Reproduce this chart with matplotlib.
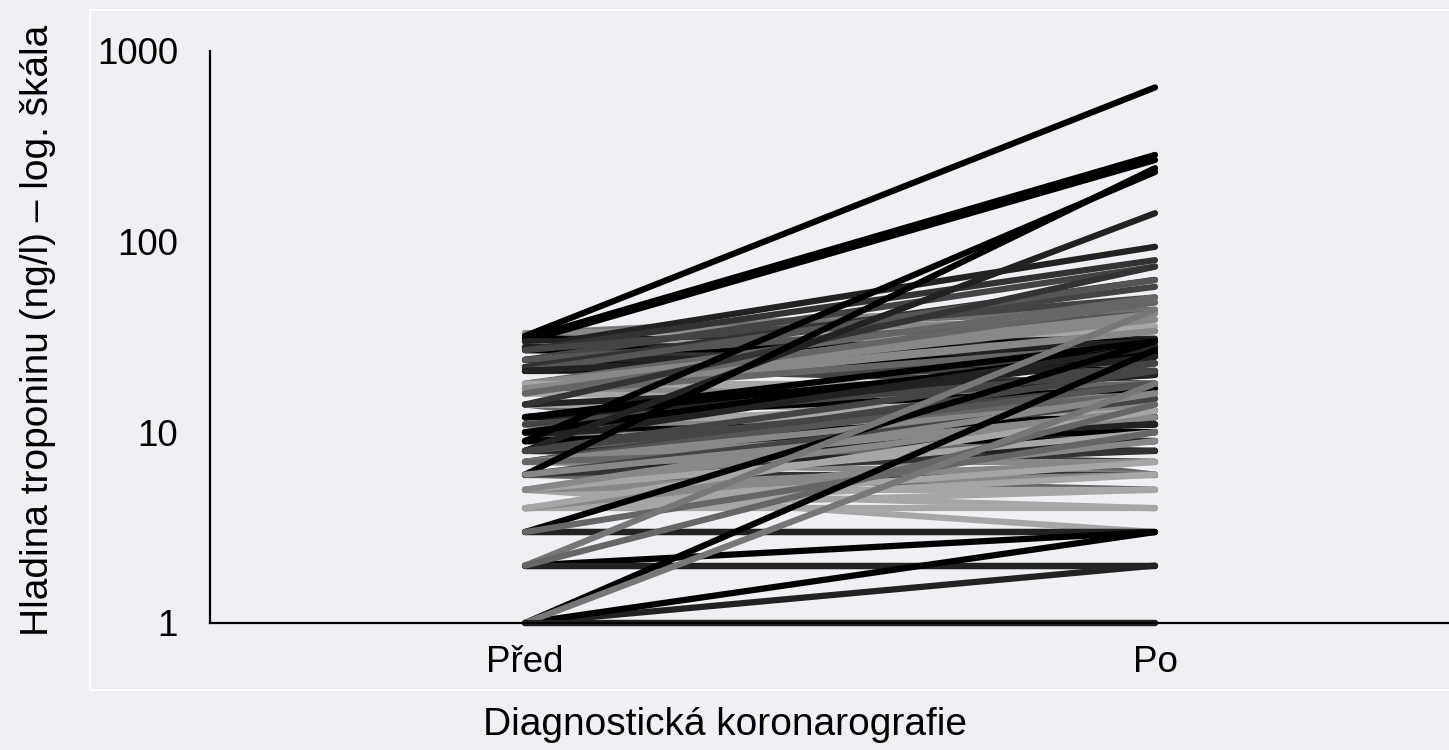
import matplotlib
matplotlib.use("Agg")
import matplotlib.pyplot as plt
from matplotlib.patches import Rectangle

# Troponin levels before / after diagnostic coronarography (ng/l), one pair per patient
pred = [33, 33, 33, 33, 33, 32, 31, 31, 31, 31, 30, 30,
        28, 28, 28, 28, 28, 27, 27, 27, 27, 24, 24, 24, 24,
        22, 22, 22, 22, 21, 21, 21, 21, 18, 18, 18, 18, 17, 17, 17, 17,
        16, 16, 16, 16, 16, 14, 14, 14, 14, 14,
        12, 12, 12, 12, 12, 12, 11, 11, 11, 11, 11,
        10, 10, 10, 10, 10, 10, 9, 9, 9, 9, 9, 9, 9,
        8, 8, 8, 8, 8, 8, 8, 7, 7, 7, 7, 7, 7, 7,
        6, 6, 6, 6, 6, 6, 6, 5, 5, 5, 5, 5, 5, 5, 5,
        4, 4, 4, 4, 4, 4, 3, 3, 3, 3, 2, 2, 2, 2, 2,
        1, 1, 1, 1, 1, 1]
po = [48, 36, 44, 34, 39, 644, 285, 30, 28, 26, 268, 31,
      94, 25, 30, 34, 29, 80, 23, 28, 51, 74, 21, 25, 42,
      58, 18, 23, 63, 63, 21, 26, 30, 51, 16, 42, 18, 39, 15, 13, 34,
      34, 16, 29, 14, 48, 6, 18, 13, 20, 74,
      17, 12, 11, 20, 30, 25, 10, 15, 13, 11, 21,
      11, 10, 12, 9, 25, 28, 9, 10, 28, 8, 14, 232, 12,
      8, 7, 11, 23, 16, 141, 18, 7, 12, 6, 21, 18, 15, 9,
      6, 9, 5, 15, 8, 243, 13, 5, 3, 7, 4, 13, 6, 10, 16,
      4, 5, 6, 7, 9, 13, 3, 3, 30, 10, 2, 3, 44, 2, 14,
      1, 2, 3, 27, 18, 1]
shade = ["#888888", "#a6a6a6", "#707070", "#a6a6a6", "#888888", "#000000",
         "#000000", "#000000", "#222222", "#000000", "#000000", "#222222",
         "#222222", "#222222", "#000000", "#a6a6a6", "#222222",
         "#333333", "#333333", "#000000", "#444444",
         "#444444", "#000000", "#222222", "#555555",
         "#444444", "#444444", "#444444", "#333333",
         "#555555", "#444444", "#000000", "#222222",
         "#666666", "#a6a6a6", "#888888", "#a6a6a6",
         "#888888", "#888888", "#888888", "#888888",
         "#888888", "#888888", "#666666", "#a6a6a6", "#666666",
         "#666666", "#666666", "#a6a6a6", "#222222", "#333333",
         "#000000", "#000000", "#000000", "#222222", "#000000", "#000000",
         "#000000", "#a6a6a6", "#a6a6a6", "#888888", "#444444",
         "#000000", "#000000", "#000000", "#222222", "#222222", "#000000",
         "#000000", "#000000", "#222222", "#222222", "#888888", "#000000", "#000000",
         "#222222", "#333333", "#222222", "#444444", "#666666", "#222222", "#444444",
         "#888888", "#888888", "#888888", "#444444", "#555555", "#888888", "#666666",
         "#333333", "#222222", "#666666", "#444444", "#333333", "#000000", "#888888",
         "#a6a6a6", "#a6a6a6", "#888888", "#a6a6a6", "#888888", "#888888", "#a6a6a6", "#888888",
         "#a6a6a6", "#a6a6a6", "#a6a6a6", "#a6a6a6", "#888888", "#a6a6a6",
         "#000000", "#222222", "#000000", "#666666",
         "#000000", "#000000", "#777777", "#222222", "#666666",
         "#222222", "#222222", "#000000", "#000000", "#777777", "#222222"]
categories = ["Před", "Po"]
yticks = [1, 10, 100, 1000]

bg = "#eff0f4"
plt.rcParams["font.family"] = ["Liberation Sans", "DejaVu Sans"]

fig = plt.figure(figsize=(14.49, 7.5), dpi=100, facecolor=bg)
# white frame around the plot area
fig.patches.append(Rectangle((90 / 1449, 60 / 750), 1.0, 680 / 750, transform=fig.transFigure,
                             fill=False, edgecolor="white", linewidth=1.5))

ax = fig.add_axes([210 / 1449, 127 / 750, 1239 / 1449, 572 / 750])
ax.set_facecolor("none")

xpos = [0.5, 1.5]
for a, b, c in zip(pred, po, shade):
    ax.plot(xpos, [a, b], color=c, linewidth=4.5, solid_capstyle="round", clip_on=False)

ax.set_yscale("log")
ax.set_ylim(1, 1000)
ax.set_xlim(0, 1239 / 630)
ax.set_yticks(yticks)
ax.set_yticklabels([str(t) for t in yticks])
ax.minorticks_off()
ax.set_xticks(xpos)
ax.set_xticklabels(categories)
ax.tick_params(axis="both", length=0, labelsize=26.5)
ax.tick_params(axis="y", pad=23)
ax.tick_params(axis="x", pad=16)

for s in ["top", "right"]:
    ax.spines[s].set_visible(False)
for s in ["left", "bottom"]:
    ax.spines[s].set_linewidth(1.6)
    ax.spines[s].set_color("black")

fig.text(38 / 1449, 1 - 330 / 750, "Hladina troponinu (ng/l) – log. škála", rotation=90,
         ha="center", va="center", fontsize=28)
fig.text(725 / 1449, 1 - 725 / 750, "Diagnostická koronarografie",
         ha="center", va="center", fontsize=28)

fig.savefig("out.png", dpi=100, facecolor=bg)
